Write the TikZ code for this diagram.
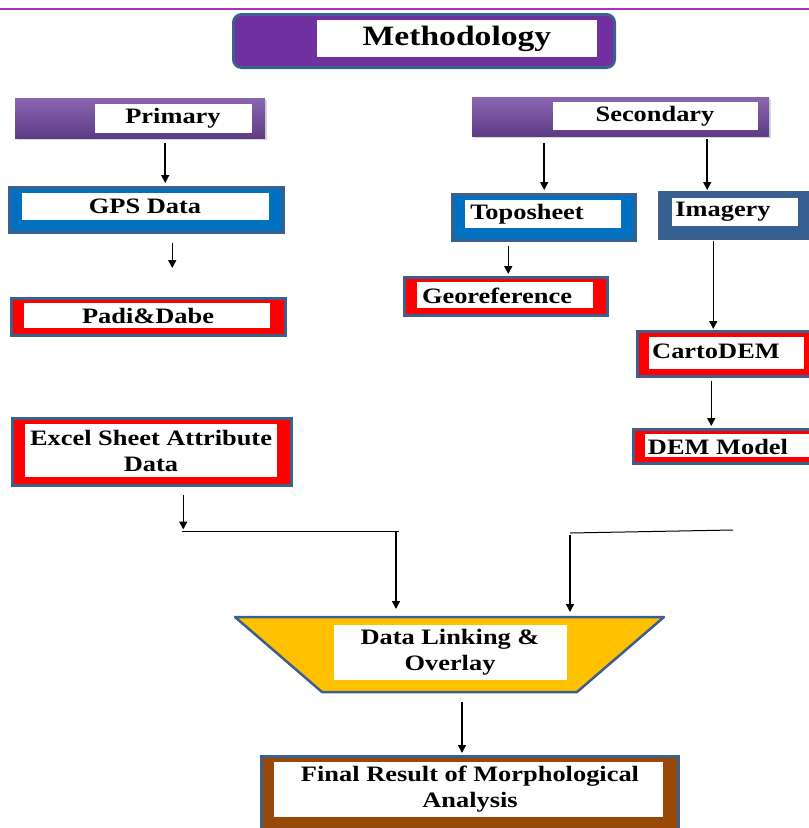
\documentclass[tikz,border=0pt]{standalone}
\usepackage{fontspec}
\setmainfont{Liberation Serif}[FakeStretch=1.2]
\usetikzlibrary{arrows.meta,shadows}
\definecolor{bord}{HTML}{3D5F8C}
\definecolor{mpurple}{HTML}{7030A0}
\definecolor{sblue}{HTML}{0070C0}
\definecolor{dblue}{HTML}{376092}
\definecolor{sred}{HTML}{FF0000}
\definecolor{gold}{HTML}{FFC000}
\definecolor{brownf}{HTML}{984807}
\definecolor{ptop}{HTML}{8A66B0}
\definecolor{pbot}{HTML}{5E3C84}
\definecolor{topline}{HTML}{B030B8}
\begin{document}
\begin{tikzpicture}[x=1pt,y=-1pt,
 outer/.style={anchor=north west, inner sep=0pt, draw=bord, line width=2.5pt},
 pbox/.style={anchor=north west, inner sep=0pt, top color=ptop, bottom color=pbot, draw=none,
   drop shadow={opacity=0.3, shadow xshift=2pt, shadow yshift=-2pt}},
 whitebox/.style={anchor=north west, inner sep=0pt, fill=white, draw=none},
 txt/.style={inner sep=0pt, font=\fontsize{22}{26}\selectfont\bfseries, align=center},
 arr/.style={line width=1.5pt, -{Triangle[width=8pt,length=8pt]}},
 ln/.style={line width=1pt}]
\useasboundingbox (0,0) rectangle (809,828);
\clip (0,0) rectangle (809,828);
% top line
\coordinate (tl1) at (0,9);
\coordinate (tl2) at (809,9);
\draw[topline, line width=2pt] (tl1) -- (tl2);
% Methodology
\node[outer, fill=mpurple, rounded corners=8pt, line width=3pt, minimum width=381pt, minimum height=53pt] (meth) at (232,13) {};
\node[whitebox, minimum width=280pt, minimum height=37pt] (methW) at (317,20) {};
\node[txt, font=\fontsize{28}{30}\selectfont\bfseries] (methT) at (457,39) {Methodology};
% Primary
\node[pbox, minimum width=250pt, minimum height=40pt] (primary) at (15,98) {};
\node[whitebox, minimum width=157pt, minimum height=29pt] (primW) at (95,104) {};
\node[txt] (primT) at (173,118) {Primary};
% Secondary
\node[pbox, minimum width=297pt, minimum height=39pt] (secondary) at (472,97) {};
\node[whitebox, minimum width=205pt, minimum height=28pt] (secW) at (553,102) {};
\node[txt] (secT) at (655,116) {Secondary};
% GPS
\node[outer, fill=sblue, minimum width=274pt, minimum height=45pt] (gps) at (8,186) {};
\node[whitebox, minimum width=247pt, minimum height=27pt] (gpsW) at (22,193) {};
\node[txt] (gpsT) at (145,206) {GPS Data};
% Padi
\node[outer, fill=sred, minimum width=274pt, minimum height=37pt] (padi) at (10,297) {};
\node[whitebox, minimum width=246pt, minimum height=25pt] (padiW) at (24,303) {};
\node[txt] (padiT) at (148,316) {Padi\&Dabe};
% Excel
\node[outer, fill=sred, minimum width=279pt, minimum height=67pt] (excel) at (11,417) {};
\node[whitebox, minimum width=252pt, minimum height=53pt] (excelW) at (25,424) {};
\node[txt] (excelT) at (151,451) {Excel Sheet Attribute\\Data};
% Toposheet
\node[outer, fill=sblue, minimum width=183pt, minimum height=46pt] (topo) at (451,193) {};
\node[whitebox, minimum width=156pt, minimum height=28pt] (topoW) at (465,200) {};
\node[txt] (topoT) at (527,214) {Toposheet};
% Imagery
\node[outer, fill=dblue, minimum width=160pt, minimum height=46pt] (imag) at (658,191) {};
\node[whitebox, minimum width=126pt, minimum height=28pt] (imagW) at (672,198) {};
\node[txt] (imagT) at (723,212) {Imagery};
% Georeference
\node[outer, fill=sred, minimum width=203pt, minimum height=38pt] (geo) at (403,276) {};
\node[whitebox, minimum width=176pt, minimum height=26pt] (geoW) at (417,282) {};
\node[txt] (geoT) at (497,296) {Georeference};
% CartoDEM
\node[outer, fill=sred, minimum width=180pt, minimum height=45pt] (carto) at (636,330) {};
\node[whitebox, minimum width=155pt, minimum height=32pt] (cartoW) at (649,337) {};
\node[txt] (cartoT) at (716,351) {CartoDEM};
% DEM Model
\node[outer, fill=sred, minimum width=185pt, minimum height=34pt] (dem) at (632,428) {};
\node[whitebox, minimum width=170pt, minimum height=23pt] (demW) at (645,434) {};
\node[txt] (demT) at (718,447) {DEM Model};
% Data linking trapezoid
\coordinate (tz1) at (235,617);
\coordinate (tz2) at (664,617);
\coordinate (tz3) at (577,692);
\coordinate (tz4) at (322,692);
\draw[fill=gold, draw=bord, line width=2.5pt, line join=round] (tz1) -- (tz2) -- (tz3) -- (tz4) -- cycle;
\node[whitebox, minimum width=233pt, minimum height=55pt] (linkW) at (334,625) {};
\node[txt] (linkT) at (450,652) {Data Linking \&\\Overlay};
% Final
\node[outer, fill=brownf, minimum width=417pt, minimum height=80pt] (final) at (260,755) {};
\node[whitebox, minimum width=389pt, minimum height=55pt] (finalW) at (274,762) {};
\node[txt] (finalT) at (470,789) {Final Result of Morphological\\Analysis};
% connectors
\draw[arr] ([xshift=25pt,yshift=-5pt]primary.south) coordinate (s1) -- ([yshift=3pt]s1 |- gps.north);
\draw[arr] ([xshift=26pt,yshift=-9pt]gps.south) coordinate (s2) -- ([yshift=29pt]s2 |- padi.north);
\draw[arr] ([xshift=31.5pt,yshift=-8pt]excel.south) coordinate (s3) -- ++(0,35);
\coordinate (j1) at (182,531);
\coordinate (j2) at (399,531);
\coordinate (j3) at (396,531);
\coordinate (j4) at (396,609);
\draw[ln] (j1) -- (j2);
\draw[arr] (j3) -- (j4);
\coordinate (k1) at (570,533);
\coordinate (k2) at (733,530);
\coordinate (k3) at (570,535);
\coordinate (k4) at (570,612);
\draw[ln] (k1) -- (k2);
\draw[arr] (k3) -- (k4);
\draw[arr] ([xshift=-76.5pt,yshift=-7pt]secondary.south) coordinate (s4) -- ([yshift=3pt]s4 |- topo.north);
\draw[arr] ([xshift=86.5pt,yshift=-3pt]secondary.south) coordinate (s5) -- ([yshift=1pt]s5 |- imag.north);
\draw[arr] ([xshift=-35.5pt,yshift=-4pt]topo.south) coordinate (s6) -- ([yshift=2pt]s6 |- geo.north);
\draw[arr] ([xshift=-26pt,yshift=-1pt]imag.south) coordinate (s7) -- ([yshift=1pt]s7 |- carto.north);
\draw[arr] ([xshift=-16pt,yshift=-3pt]carto.south) coordinate (s8) -- ([yshift=2pt]s8 |- dem.north);
\coordinate (linkB) at (462,702);
\draw[arr] (linkB) -- ([yshift=2pt]linkB |- final.north);
\end{tikzpicture}
\end{document}
